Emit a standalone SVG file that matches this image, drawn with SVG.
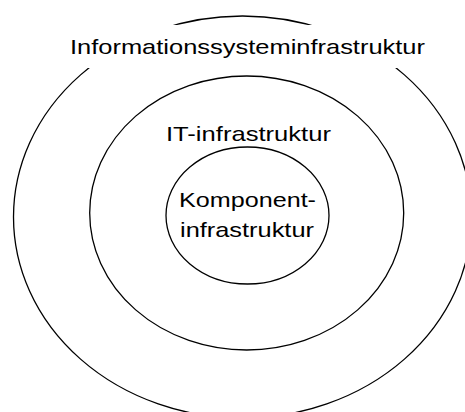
<svg xmlns="http://www.w3.org/2000/svg" width="465" height="412" viewBox="0 0 465 412">
<style>
.ring{fill:none;stroke:#000;stroke-width:1.3}
.lbl{font-family:"Liberation Sans",Arial,sans-serif;font-size:21px;fill:#000;text-anchor:middle}
</style>
<rect width="465" height="412" fill="#fff"/>
<g id="outer">
<ellipse class="ring" cx="242.5" cy="217" rx="229" ry="201"/>
<rect x="62" y="25" width="370" height="43" fill="#fff"/>
<text class="lbl" x="247.5" y="54" textLength="355" lengthAdjust="spacingAndGlyphs">Informationssysteminfrastruktur</text>
</g>
<g id="middle">
<ellipse class="ring" cx="246.7" cy="213" rx="157" ry="137"/>
<text class="lbl" x="248.5" y="141" textLength="165" lengthAdjust="spacingAndGlyphs">IT-infrastruktur</text>
</g>
<g id="inner">
<ellipse class="ring" cx="247.5" cy="215.5" rx="81.5" ry="68.5"/>
<text class="lbl" x="247.5" y="206.5" textLength="137" lengthAdjust="spacingAndGlyphs">Komponent-</text>
<text class="lbl" x="247" y="237" textLength="134" lengthAdjust="spacingAndGlyphs">infrastruktur</text>
</g>
<g id="connectors"/>
</svg>
